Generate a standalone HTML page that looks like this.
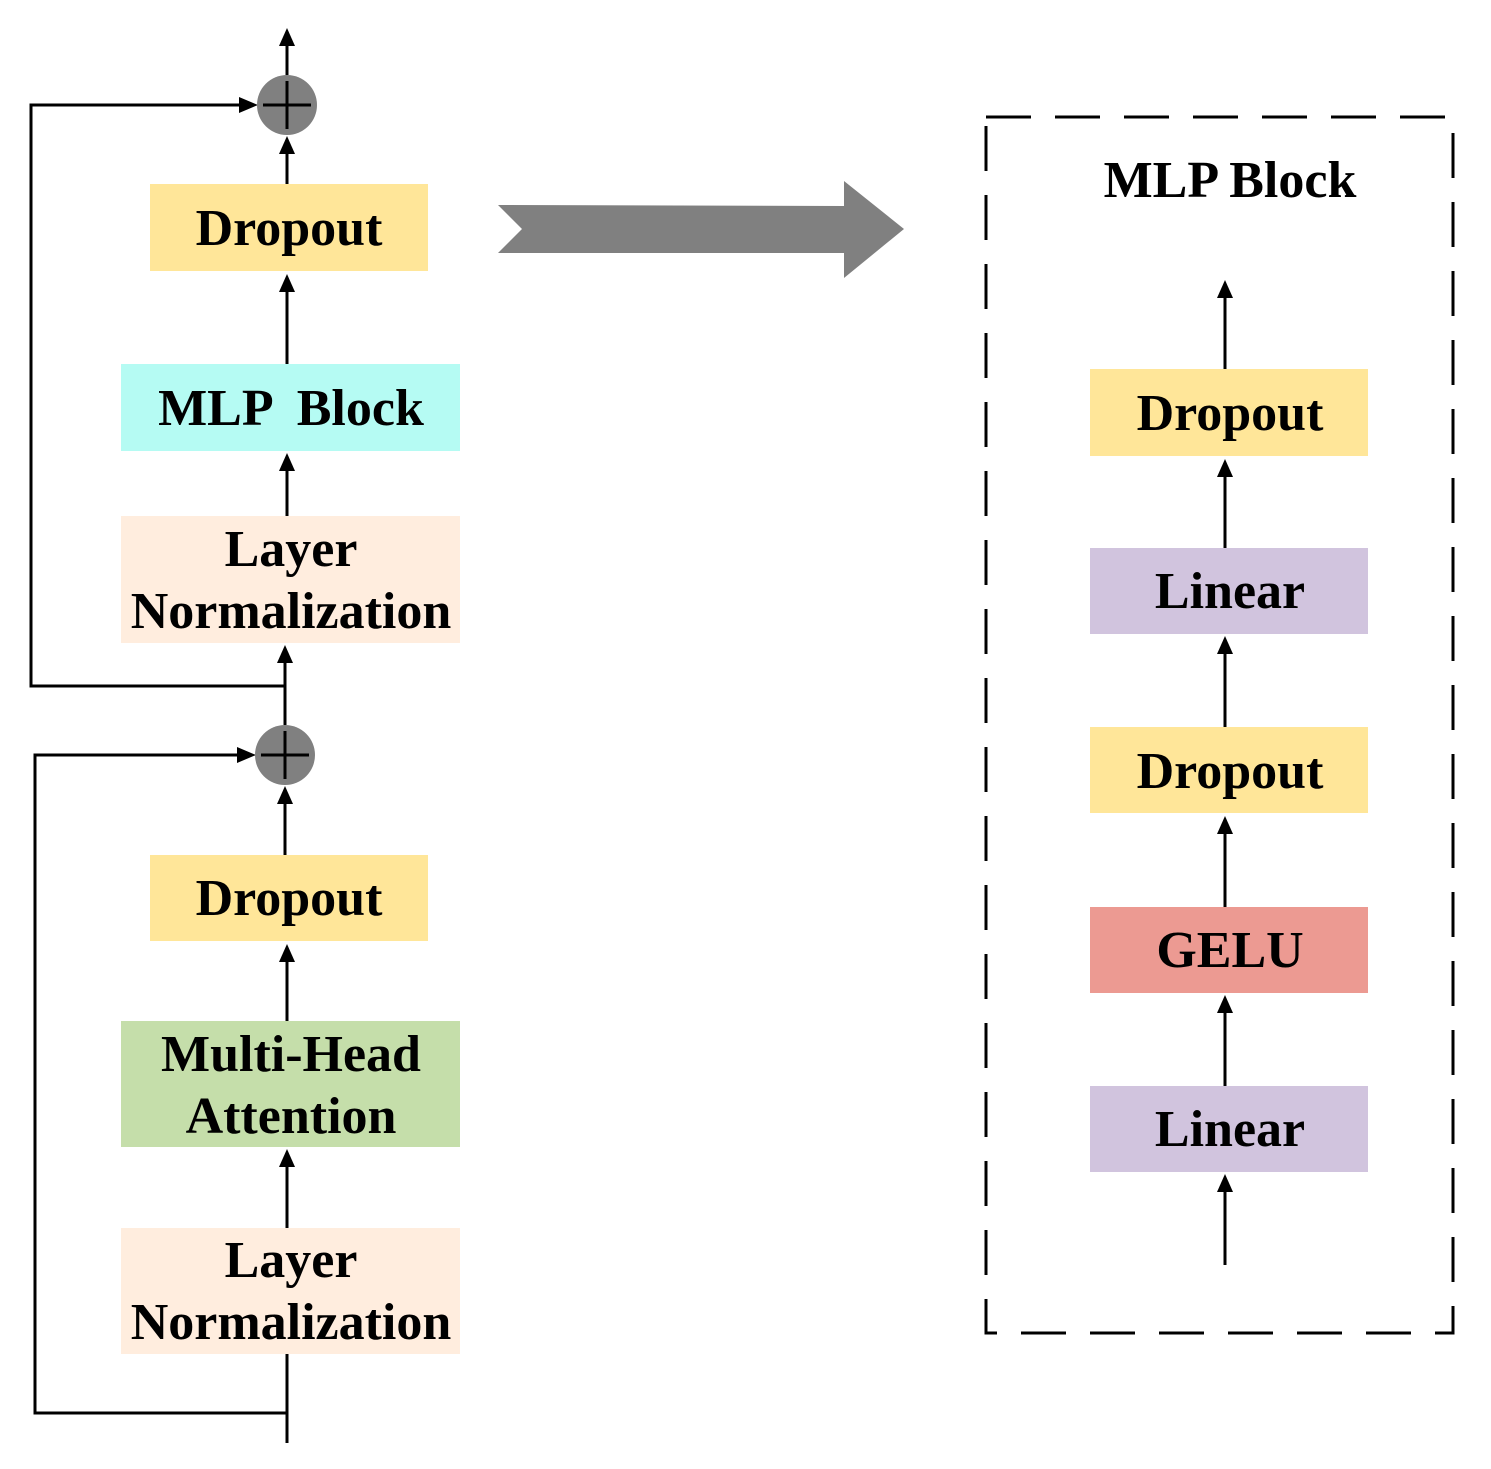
<!DOCTYPE html>
<html><head><meta charset="utf-8"><style>
html,body{margin:0;padding:0;background:#fff;}
svg{display:block;}
text{font-family:"Liberation Serif",serif;font-weight:bold;font-size:52px;fill:#000;text-anchor:middle;}
</style></head><body>
<svg width="1491" height="1469" viewBox="0 0 1491 1469" xmlns="http://www.w3.org/2000/svg">
<g stroke="#000" stroke-width="3" fill="none">
<line x1="287" y1="75" x2="287" y2="40"/>
<line x1="287" y1="184" x2="287" y2="150"/>
<line x1="287" y1="364" x2="287" y2="290"/>
<line x1="287" y1="516" x2="287" y2="470"/>
<polyline points="285,725 285,660"/>
<polyline points="285,686 31,686 31,105 245,105"/>
<line x1="285" y1="855" x2="285" y2="800"/>
<line x1="287" y1="1021" x2="287" y2="960"/>
<line x1="287" y1="1228" x2="287" y2="1165"/>
<line x1="287" y1="1354" x2="287" y2="1443"/>
<polyline points="287,1413 35,1413 35,755 243,755"/>
<line x1="1225" y1="1265" x2="1225" y2="1190"/>
<line x1="1225" y1="1086" x2="1225" y2="1010"/>
<line x1="1225" y1="907" x2="1225" y2="832"/>
<line x1="1225" y1="727" x2="1225" y2="652"/>
<line x1="1225" y1="548" x2="1225" y2="474"/>
<line x1="1225" y1="369" x2="1225" y2="295"/>
<rect x="986" y="117" width="467" height="1216" stroke-dasharray="45 24"/>
</g>
<g fill="#000">
<polygon points="287,28 279,46 295,46"/>
<polygon points="287,136 279,154 295,154"/>
<polygon points="287,274 279,292 295,292"/>
<polygon points="287,453 279,471 295,471"/>
<polygon points="285,645 277,663 293,663"/>
<polygon points="258,105 239,97 239,113"/>
<polygon points="285,786 277,804 293,804"/>
<polygon points="256,755 237,747 237,763"/>
<polygon points="287,944 279,962 295,962"/>
<polygon points="287,1149 279,1167 295,1167"/>
<polygon points="1225,1174 1217,1192 1233,1192"/>
<polygon points="1225,995 1217,1013 1233,1013"/>
<polygon points="1225,816 1217,834 1233,834"/>
<polygon points="1225,636 1217,654 1233,654"/>
<polygon points="1225,459 1217,477 1233,477"/>
<polygon points="1225,280 1217,298 1233,298"/>
</g>
<circle cx="287" cy="105" r="30" fill="#808080"/>
<path d="M263 105 H311 M287 81 V129" stroke="#000" stroke-width="3"/>
<circle cx="285" cy="755" r="30" fill="#808080"/>
<path d="M261 755 H309 M285 731 V779" stroke="#000" stroke-width="3"/>
<polygon points="498,205 844,206 844,181 904,229 844,278 844,253 498,253 522,229" fill="#808080"/>
<rect x="150" y="184" width="278" height="87" fill="#FFE699"/>
<text x="289" y="245">Dropout</text>
<rect x="121" y="364" width="339" height="87" fill="#B5FBF3"/>
<text x="291" y="425" xml:space="preserve">MLP  Block</text>
<rect x="121" y="516" width="339" height="127" fill="#FFEDDE"/>
<text x="291" y="566">Layer</text>
<text x="291" y="628">Normalization</text>
<rect x="150" y="855" width="278" height="86" fill="#FFE699"/>
<text x="289" y="915">Dropout</text>
<rect x="121" y="1021" width="339" height="126" fill="#C5DEAA"/>
<text x="291" y="1071">Multi-Head</text>
<text x="291" y="1133">Attention</text>
<rect x="121" y="1228" width="339" height="126" fill="#FFEDDE"/>
<text x="291" y="1277">Layer</text>
<text x="291" y="1339">Normalization</text>
<text x="1230" y="197">MLP Block</text>
<rect x="1090" y="369" width="278" height="87" fill="#FFE699"/>
<text x="1230" y="430">Dropout</text>
<rect x="1090" y="548" width="278" height="86" fill="#D1C4DE"/>
<text x="1230" y="608">Linear</text>
<rect x="1090" y="727" width="278" height="86" fill="#FFE699"/>
<text x="1230" y="788">Dropout</text>
<rect x="1090" y="907" width="278" height="86" fill="#EC9A92"/>
<text x="1230" y="967">GELU</text>
<rect x="1090" y="1086" width="278" height="86" fill="#D1C4DE"/>
<text x="1230" y="1146">Linear</text>
</svg>
</body></html>
